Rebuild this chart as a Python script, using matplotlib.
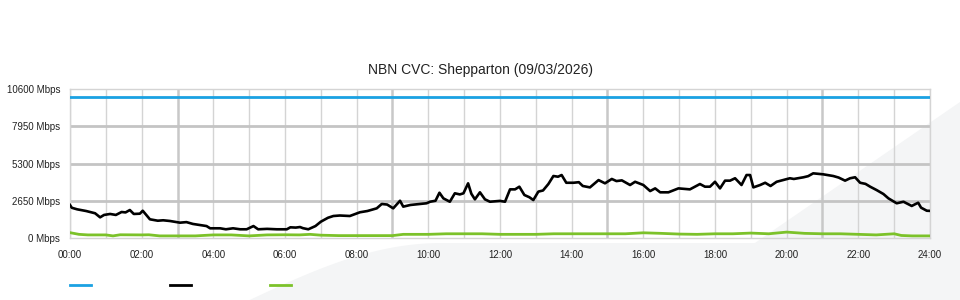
import numpy as np
import matplotlib
matplotlib.use("Agg")
from matplotlib import pyplot as plt
from matplotlib.lines import Line2D
from matplotlib.patches import Polygon

plt.rcParams['font.family'] = ['Liberation Sans', 'DejaVu Sans']

title = "NBN CVC: Shepparton (09/03/2026)"

# capacity (blue)
cap_hours = [0, 24]
cap_mbps = [10000, 10000]

# traffic (black) - hours, Mbps
traffic_hours = [
	0.0, 0.05, 0.2, 0.45, 0.7, 0.84, 0.95, 1.12, 1.28, 1.44, 1.55, 1.67, 1.78, 1.95, 2.03,
	2.23, 2.45, 2.6, 2.79, 3.07, 3.25, 3.43, 3.6, 3.81, 3.91, 4.19, 4.35, 4.55, 4.75, 4.93,
	5.12, 5.25, 5.5, 5.77, 6.05, 6.15, 6.3, 6.42, 6.5, 6.65, 6.85, 7.0, 7.2, 7.35, 7.53,
	7.81, 8.09, 8.3, 8.56, 8.7, 8.85, 9.02, 9.21, 9.3, 9.5, 9.77, 9.95, 10.05, 10.2, 10.31,
	10.42, 10.6, 10.74, 10.88, 10.98, 11.11, 11.2, 11.3, 11.44, 11.58, 11.72, 12.0, 12.14,
	12.28, 12.42, 12.54, 12.68, 12.82, 12.93, 13.07, 13.2, 13.35, 13.49, 13.62, 13.72, 13.85,
	14.05, 14.2, 14.31, 14.51, 14.75, 14.93, 15.12, 15.25, 15.4, 15.63, 15.77, 16.0, 16.19,
	16.33, 16.47, 16.7, 16.98, 17.3, 17.58, 17.72, 17.86, 18.0, 18.14, 18.28, 18.42, 18.56,
	18.74, 18.88, 18.98, 19.07, 19.26, 19.4, 19.55, 19.72, 19.9, 20.09, 20.2, 20.47, 20.6,
	20.74, 21.02, 21.3, 21.45, 21.63, 21.77, 21.91, 22.05, 22.2, 22.33, 22.51, 22.7, 22.84,
	23.07, 23.26, 23.49, 23.67, 23.75, 23.91, 24.0,
]
traffic_mbps = [
	2350, 2150, 2040, 1920, 1760, 1470, 1640, 1710, 1640, 1850, 1820, 1990, 1710, 1730, 1940,
	1330, 1230, 1260, 1210, 1090, 1130, 1000, 930, 850, 690, 690, 620, 690, 620, 620,
	850, 620, 650, 620, 620, 760, 740, 780, 700, 620, 850, 1160, 1440, 1565, 1600,
	1565, 1830, 1920, 2110, 2420, 2380, 2110, 2650, 2230, 2350, 2420, 2470, 2580, 2650, 3220,
	2820, 2580, 3180, 3100, 3180, 3890, 3150, 2750, 3250, 2750, 2580, 2640, 2580,
	3460, 3460, 3650, 3060, 2900, 2700, 3300, 3380, 3840, 4410, 4360, 4480, 3930,
	3930, 3970, 3700, 3600, 4120, 3890, 4200, 4050, 4100, 3770, 4000, 3770, 3340,
	3530, 3250, 3250, 3530, 3460, 3840, 3650, 3650, 4000, 3530, 4080, 4080, 4250,
	3770, 4480, 4480, 3600, 3770, 3930, 3700, 4000, 4120, 4250, 4200, 4320, 4400,
	4600, 4530, 4410, 4300, 4080, 4250, 4320, 3930, 3850, 3650, 3410, 3130, 2820,
	2470, 2580, 2280, 2510, 2160, 1940, 1930,
]

# green series - hours, Mbps
green_hours = [
	0, 0.25, 0.5, 1.0, 1.2, 1.4, 2.0, 2.2, 2.5, 3.0, 3.5, 4.0, 4.5, 5.0, 5.5, 6.0, 6.4, 6.7,
	7.0, 7.5, 8.0, 8.5, 9.0, 9.3, 10.0, 10.5, 11.0, 11.5, 12.0, 12.5, 13.0, 13.5, 14.0, 15.0,
	15.5, 16.0, 16.5, 17.0, 17.5, 18.0, 18.5, 19.0, 19.5, 20.0, 20.5, 21.0, 21.5, 22.0, 22.5,
	23.0, 23.2, 23.5, 24.0,
]
green_mbps = [
	380, 260, 220, 220, 150, 230, 220, 230, 150, 150, 150, 220, 220, 150, 220, 230, 220, 260,
	200, 170, 170, 170, 170, 260, 260, 300, 300, 300, 260, 260, 260, 300, 300, 300,
	300, 370, 330, 280, 260, 300, 300, 350, 300, 420, 330, 300, 300, 260, 220,
	300, 180, 150, 150,
]

y_ticks = [0, 2650, 5300, 7950, 10600]
x_ticks = list(range(0, 25, 2))

fig = plt.figure(figsize=(9.6, 3.0), dpi=100)

# faint watermark swoosh behind the chart
swoosh = "#f4f5f6"
fig.add_artist(Polygon([(0.70, 0.0), (1.0, 0.66), (1.0, 0.0)], closed=True,
	transform=fig.transFigure, facecolor=swoosh, edgecolor="none", zorder=0))
t = np.linspace(0, 1, 40)
curve = [(0.26 + 0.2 * s, 0.19 * np.sin(np.pi / 2 * s)) for s in t]
fig.add_artist(Polygon(curve + [(0.79, 0.19), (0.79, 0.0)], closed=True,
	transform=fig.transFigure, facecolor=swoosh, edgecolor="none", zorder=0))

ax = fig.add_axes([70 / 960, 62 / 300, 860 / 960, 149 / 300])
ax.patch.set_alpha(0)

ax.plot(cap_hours, cap_mbps, color="#1ba1e2", lw=2, zorder=3)
ax.plot(green_hours, green_mbps, color="#7cc22a", lw=2, zorder=3)
ax.plot(traffic_hours, traffic_mbps, color="black", lw=1.9, zorder=4)

ax.set_xlim(0, 24)
ax.set_ylim(0, 10600)

for h in range(25):
	if h % 6 == 3:
		ax.axvline(h, color="#c8c8c8", lw=1.8, zorder=1)
	else:
		ax.axvline(h, color="#d4d4d4", lw=1, zorder=1)
for v in y_ticks[1:-1]:
	ax.axhline(v, color="#c4c4c4", lw=2, zorder=1)

for sp in ax.spines.values():
	sp.set_color("#d4d4d4")
	sp.set_linewidth(1)

ax.set_xticks(x_ticks)
ax.set_xticklabels([f"{h:02d}:00" for h in x_ticks])
ax.set_yticks(y_ticks)
ax.set_yticklabels([f"{v} Mbps" for v in y_ticks])
ax.tick_params(length=0, labelsize=7, colors="#222222")
ax.tick_params(axis="x", pad=9)
ax.tick_params(axis="y", pad=7)

fig.text(0.5, 1 - 70 / 300, title, ha="center", va="center", fontsize=10, color="#222222")

# legend swatches (no labels)
for x0, col in [(70, "#1ba1e2"), (170, "black"), (270, "#7cc22a")]:
	fig.add_artist(Line2D([x0 / 960, (x0 + 21) / 960], [15 / 300, 15 / 300],
		transform=fig.transFigure, color=col, lw=2))

fig.savefig("out.png", dpi=100)
